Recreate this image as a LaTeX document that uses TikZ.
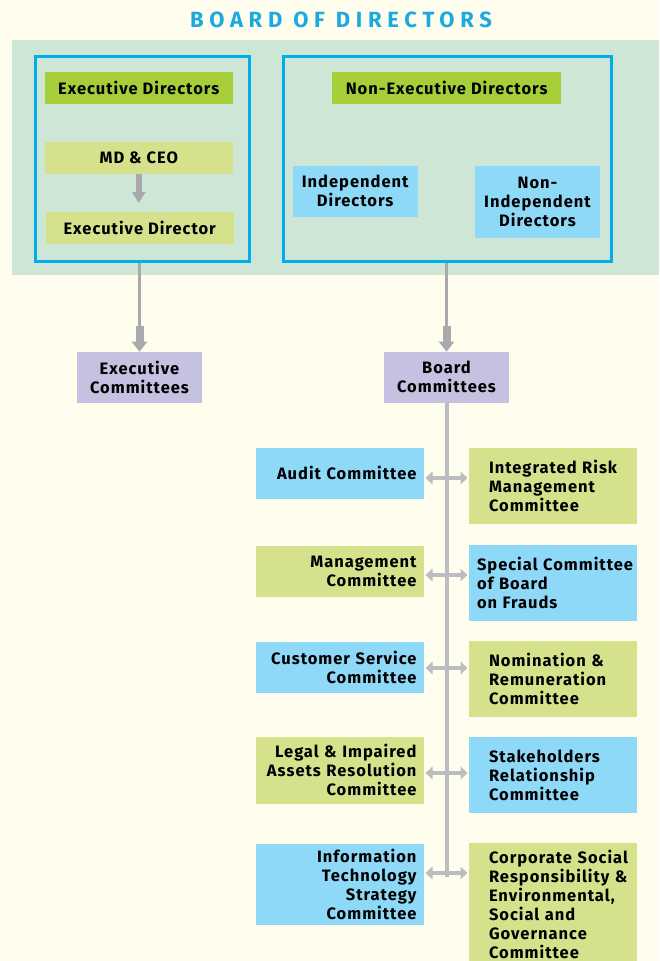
\documentclass[tikz,border=0pt]{standalone}
\usepackage{fontspec}
\newfontfamily\bodyfont[LetterSpace=6]{Fira Sans}
\newfontfamily\titlefont[LetterSpace=26]{Fira Sans}
\usetikzlibrary{arrows.meta}
\definecolor{bgc}{HTML}{FFFEEE}
\definecolor{panelc}{HTML}{CDE6D5}
\definecolor{framec}{HTML}{00AEEF}
\definecolor{titlec}{HTML}{1AA9E0}
\definecolor{gstrong}{HTML}{A6CE39}
\definecolor{glight}{HTML}{D5E28B}
\definecolor{bluec}{HTML}{8ED8F8}
\definecolor{lavc}{HTML}{C4C2E0}
\definecolor{arrowc}{HTML}{A8A9AD}
\definecolor{linec}{HTML}{BCBDC0}
\begin{document}
\begin{tikzpicture}[x=1pt,y=-1pt,
  every node/.style={outer sep=0pt},
  box/.style={anchor=north west, inner sep=0pt, align=center,
    font=\bodyfont\bfseries\fontsize{16.5}{19}\selectfont},
  lbox/.style={box, align=right, text width=153pt, inner xsep=7.5pt, minimum height=#1},
  rbox/.style={box, align=left, text width=158pt, inner xsep=5pt, minimum height=#1},
  frame/.style={draw=framec, line width=3pt, inner sep=0pt},
  conn/.style={draw=arrowc, line width=3.5pt,
    -{Rectangle[width=8pt,length=16pt,sep=0pt]Triangle[width=15pt,length=10pt,sep=0pt]}},
  darrow/.style={draw=linec, line width=4.3pt,
    {Triangle[width=12.5pt,length=7pt]}-{Triangle[width=12.5pt,length=7pt]},
    shorten <=1.5pt, shorten >=1.5pt},
  vline/.style={draw=linec, line width=4pt}
]
\useasboundingbox[fill=bgc] (0,0) rectangle (659,961);
% title
\node[font=\titlefont\bfseries\fontsize{22}{24}\selectfont, text=titlec, inner sep=0pt] (title) at (341,20) {BOARD OF DIRECTORS};
% panel
\fill[panelc] (12,39.5) rectangle (659,275);
% frames
\node[frame, minimum width=214.5pt, minimum height=204.5pt] (lf) at (142.25,159) {};
\node[frame, minimum width=328pt, minimum height=204.5pt] (rf) at (447.5,159) {};
% top boxes
\node[box, fill=gstrong, minimum width=187.5pt, minimum height=31.7pt] (ed) at (45,72) {Executive Directors};
\node[box, fill=glight, minimum width=187.5pt, minimum height=31.7pt] (md) at (45,142) {MD \& CEO};
\node[box, fill=glight, minimum width=187.8pt, minimum height=31.7pt] (exd) at (45.8,212) {Executive Director};
\node[box, fill=gstrong, minimum width=229.3pt, minimum height=31.7pt] (ned) at (332,72) {Non-Executive Directors};
\node[box, fill=bluec, minimum width=125pt, minimum height=51pt] (ind) at (292.7,165.7) {Independent\\Directors};
\node[box, fill=bluec, minimum width=125pt, minimum height=72pt] (nind) at (475,165.7) {Non-\\Independent\\Directors};
\draw[arrowc, line width=6pt, -{Triangle[width=13pt,length=11pt,sep=0pt]}, shorten >=9pt]
  (md.south) -- (md.south |- exd.north);
% committees
\node[box, fill=lavc, minimum width=125pt, minimum height=51pt] (ec) at (77,351.7) {Executive\\Committees};
\node[box, fill=lavc, minimum width=125pt, minimum height=51pt] (bc) at (384,351.7) {Board\\Committees};
\draw[conn, shorten <=1.5pt] (lf.south -| ec.north) -- (ec.north);
\draw[conn, shorten <=1.5pt] (rf.south -| bc.north) -- (bc.north);
% vertical line
\coordinate (vend) at (446.5,877);
\draw[vline] (bc.south) -- (bc.south |- vend);
% left boxes
\node[lbox=50.7pt, fill=bluec] (audit) at (256,448) {Audit Committee};
\node[lbox=50.7pt, fill=glight] (mgmt) at (256,546) {Management\\Committee};
\node[lbox=50.7pt, fill=bluec] (cust) at (256,642) {Customer Service\\Committee};
\node[lbox=66.7pt, fill=glight] (legal) at (256,737) {Legal \& Impaired\\Assets Resolution\\Committee};
\node[lbox=80.7pt, fill=bluec] (its) at (256,844) {Information\\Technology\\Strategy\\Committee};
% right boxes
\node[rbox=75.7pt, fill=glight] (irm) at (469,448) {\leftskip=15pt Integrated Risk\\Management\\Committee\par};
\node[rbox=75.7pt, fill=bluec] (spec) at (469,545) {\leftskip=3pt Special Committee\\of Board\\on Frauds\par};
\node[rbox=76pt, fill=glight] (nom) at (469,641) {\leftskip=15pt Nomination \&\\Remuneration\\Committee\par};
\node[rbox=75.4pt, fill=bluec] (stake) at (469,737.3) {\leftskip=15pt Stakeholders\\Relationship\\Committee\par};
\node[rbox=122.4pt, fill=glight] (csr) at (469,843.3) {\leftskip=15pt Corporate Social\\Responsibility \&\\Environmental,\\Social and\\Governance\\Committee\par};
% double arrows
\draw[darrow] (audit.east |- 0,478) -- (irm.west |- 0,478);
\draw[darrow] (mgmt.east |- 0,575) -- (spec.west |- 0,575);
\draw[darrow] (cust.east |- 0,668) -- (nom.west |- 0,668);
\draw[darrow] (legal.east |- 0,773) -- (stake.west |- 0,773);
\draw[darrow] (its.east |- 0,873) -- (csr.west |- 0,873);
\end{tikzpicture}
\end{document}
